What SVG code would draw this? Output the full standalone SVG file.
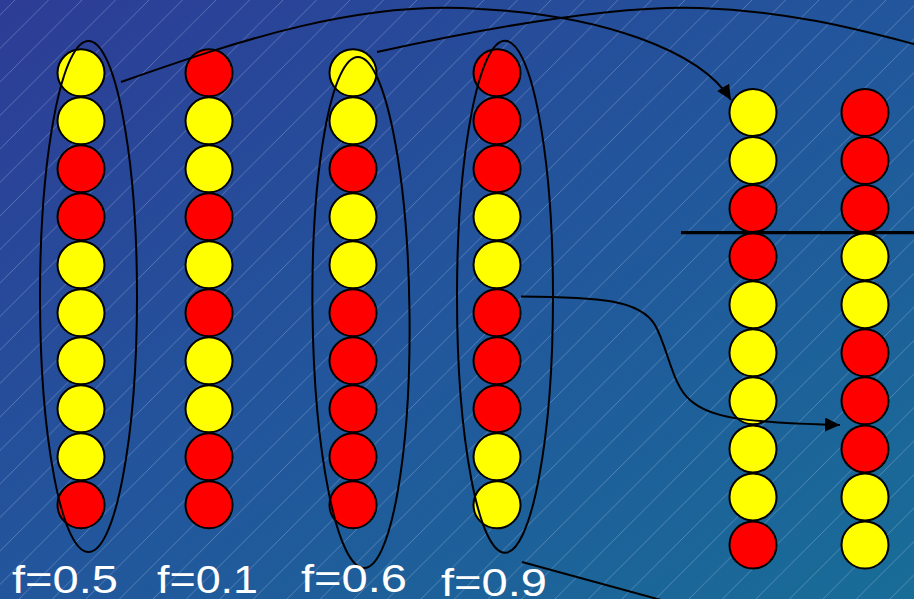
<svg xmlns="http://www.w3.org/2000/svg" width="914" height="599" viewBox="0 0 914 599">
  <defs>
    <linearGradient id="bg" x1="0" y1="0" x2="1" y2="1">
      <stop offset="0" stop-color="#2d3c96"/>
      <stop offset="0.5" stop-color="#22569c"/>
      <stop offset="1" stop-color="#186d97"/>
    </linearGradient>
    <pattern id="hatch" patternUnits="userSpaceOnUse" x="15" y="0" width="33.5" height="33.5">
      <path d="M-2,35.5 L35.5,-2 M-2,2 L2,-2 M31.5,35.5 L35.5,31.5" stroke="#dfe8ff" stroke-opacity="0.3" stroke-width="0.9" fill="none"/>
    </pattern>
    <marker id="arrow" markerUnits="userSpaceOnUse" markerWidth="16" markerHeight="14" refX="15" refY="7" orient="auto">
      <path d="M0,0 L15,7 L0,14 Z" fill="#000"/>
    </marker>
  </defs>
  <style>
    .y { fill: #ffff00; stroke: #000; stroke-width: 2; }
    .r { fill: #ff0000; stroke: #000; stroke-width: 2; }
    .loop { fill: none; stroke: #000; stroke-width: 2; }
    .conn { fill: none; stroke: #000; stroke-width: 2; }
    .lbl { fill: #ffffff; font-family: "Liberation Sans", Arial, sans-serif; font-size: 39px; }
  </style>

  <rect width="914" height="599" fill="url(#bg)"/>
  <rect width="914" height="599" fill="url(#hatch)"/>

  <!-- Column 1 (f=0.5) -->
  <g id="col1">
    <circle class="y" cx="81" cy="72.8" r="23.5"/>
    <circle class="y" cx="81" cy="120.8" r="23.5"/>
    <circle class="r" cx="81" cy="168.8" r="23.5"/>
    <circle class="r" cx="81" cy="216.8" r="23.5"/>
    <circle class="y" cx="81" cy="264.8" r="23.5"/>
    <circle class="y" cx="81" cy="312.8" r="23.5"/>
    <circle class="y" cx="81" cy="360.8" r="23.5"/>
    <circle class="y" cx="81" cy="408.8" r="23.5"/>
    <circle class="y" cx="81" cy="456.8" r="23.5"/>
    <circle class="r" cx="81" cy="504.8" r="23.5"/>
  </g>

  <!-- Column 2 (f=0.1) -->
  <g id="col2">
    <circle class="r" cx="209" cy="72.8" r="23.5"/>
    <circle class="y" cx="209" cy="120.8" r="23.5"/>
    <circle class="y" cx="209" cy="168.8" r="23.5"/>
    <circle class="r" cx="209" cy="216.8" r="23.5"/>
    <circle class="y" cx="209" cy="264.8" r="23.5"/>
    <circle class="r" cx="209" cy="312.8" r="23.5"/>
    <circle class="y" cx="209" cy="360.8" r="23.5"/>
    <circle class="y" cx="209" cy="408.8" r="23.5"/>
    <circle class="r" cx="209" cy="456.8" r="23.5"/>
    <circle class="r" cx="209" cy="504.8" r="23.5"/>
  </g>

  <!-- Column 3 (f=0.6) -->
  <g id="col3">
    <circle class="y" cx="353" cy="72.8" r="23.5"/>
    <circle class="y" cx="353" cy="120.8" r="23.5"/>
    <circle class="r" cx="353" cy="168.8" r="23.5"/>
    <circle class="y" cx="353" cy="216.8" r="23.5"/>
    <circle class="y" cx="353" cy="264.8" r="23.5"/>
    <circle class="r" cx="353" cy="312.8" r="23.5"/>
    <circle class="r" cx="353" cy="360.8" r="23.5"/>
    <circle class="r" cx="353" cy="408.8" r="23.5"/>
    <circle class="r" cx="353" cy="456.8" r="23.5"/>
    <circle class="r" cx="353" cy="504.8" r="23.5"/>
  </g>

  <!-- Column 4 (f=0.9) -->
  <g id="col4">
    <circle class="r" cx="497" cy="72.8" r="23.5"/>
    <circle class="r" cx="497" cy="120.8" r="23.5"/>
    <circle class="r" cx="497" cy="168.8" r="23.5"/>
    <circle class="y" cx="497" cy="216.8" r="23.5"/>
    <circle class="y" cx="497" cy="264.8" r="23.5"/>
    <circle class="r" cx="497" cy="312.8" r="23.5"/>
    <circle class="r" cx="497" cy="360.8" r="23.5"/>
    <circle class="r" cx="497" cy="408.8" r="23.5"/>
    <circle class="y" cx="497" cy="456.8" r="23.5"/>
    <circle class="y" cx="497" cy="504.8" r="23.5"/>
  </g>

  <!-- Column 5 (result) -->
  <g id="col5">
    <circle class="y" cx="753" cy="112.5" r="23.5"/>
    <circle class="y" cx="753" cy="160.5" r="23.5"/>
    <circle class="r" cx="753" cy="208.6" r="23.5"/>
    <circle class="r" cx="753" cy="256.7" r="23.5"/>
    <circle class="y" cx="753" cy="304.7" r="23.5"/>
    <circle class="y" cx="753" cy="352.8" r="23.5"/>
    <circle class="y" cx="753" cy="400.8" r="23.5"/>
    <circle class="y" cx="753" cy="448.9" r="23.5"/>
    <circle class="y" cx="753" cy="496.9" r="23.5"/>
    <circle class="r" cx="753" cy="545" r="23.5"/>
  </g>

  <!-- Column 6 (result) -->
  <g id="col6">
    <circle class="r" cx="865" cy="112.5" r="23.5"/>
    <circle class="r" cx="865" cy="160.5" r="23.5"/>
    <circle class="r" cx="865" cy="208.6" r="23.5"/>
    <circle class="y" cx="865" cy="256.7" r="23.5"/>
    <circle class="y" cx="865" cy="304.7" r="23.5"/>
    <circle class="r" cx="865" cy="352.8" r="23.5"/>
    <circle class="r" cx="865" cy="400.8" r="23.5"/>
    <circle class="r" cx="865" cy="448.9" r="23.5"/>
    <circle class="y" cx="865" cy="496.9" r="23.5"/>
    <circle class="y" cx="865" cy="545" r="23.5"/>
  </g>

  <!-- Selection loops -->
  <g id="loop1"><ellipse class="loop" cx="88.5" cy="296.5" rx="48.5" ry="255.5"/></g>
  <g id="loop3"><ellipse class="loop" cx="361" cy="312.5" rx="48.5" ry="255.5" transform="rotate(-0.7 361 312.5)"/></g>
  <g id="loop4"><ellipse class="loop" cx="505" cy="296.7" rx="48" ry="256"/></g>

  <!-- Crossover cut line -->
  <g id="cutline"><line x1="681" y1="232.6" x2="914" y2="232.6" stroke="#000" stroke-width="3.2"/></g>

  <!-- Connectors -->
  <g id="connectors">
    <path class="conn" d="M121,82 C240,40 360,0 480,9 C600,15 700,50 731,100" marker-end="url(#arrow)"/>
    <path class="conn" d="M377,52 C500,25 620,5 700,8 C790,11 860,30 914,44 L930,48"/>
    <path class="conn" d="M521,296.5 C600,297 640,300 655,325 C668,348 672,385 690,400 C710,418 740,422 840,425" marker-end="url(#arrow)"/>
    <path class="conn" d="M522,562 L672,603"/>
  </g>

  <!-- Labels -->
  <g id="labels">
    <text class="lbl" x="12" y="593" textLength="106" lengthAdjust="spacingAndGlyphs">f=0.5</text>
    <text class="lbl" x="157" y="593" textLength="101" lengthAdjust="spacingAndGlyphs">f=0.1</text>
    <text class="lbl" x="301" y="592" textLength="106" lengthAdjust="spacingAndGlyphs">f=0.6</text>
    <text class="lbl" x="441" y="596" textLength="106" lengthAdjust="spacingAndGlyphs">f=0.9</text>
  </g>
</svg>
